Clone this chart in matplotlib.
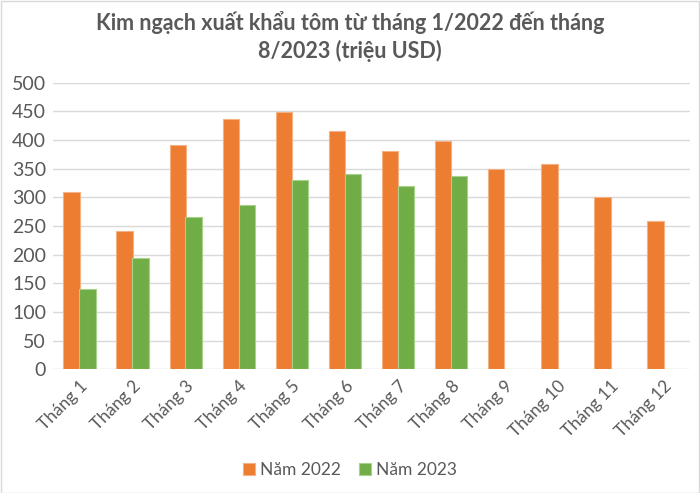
import matplotlib
matplotlib.use("Agg")
import matplotlib.pyplot as plt
import numpy as np
from matplotlib.patches import Rectangle

months = ["Tháng 1", "Tháng 2", "Tháng 3", "Tháng 4", "Tháng 5", "Tháng 6",
          "Tháng 7", "Tháng 8", "Tháng 9", "Tháng 10", "Tháng 11", "Tháng 12"]
values_2022 = [310, 242, 391, 436, 449, 416, 381, 398, 349, 359, 300, 259]
values_2023 = [140, 194, 265, 286, 331, 341, 320, 337]
series_names = ["Năm 2022", "Năm 2023"]
yticks = [0, 50, 100, 150, 200, 250, 300, 350, 400, 450, 500]

plt.rcParams['font.family'] = ['Lato', 'DejaVu Sans']
txt = '#595959'
fig = plt.figure(figsize=(7, 4.93), dpi=100)
ax = fig.add_axes([0.0757, 0.2509, 0.91, 0.5814])

x = np.arange(len(months))
w = 0.31
ax.bar(x - 0.15, values_2022, width=w, color='#ED7D31', edgecolor='#F4B183',
       linewidth=0.8, label=series_names[0], zorder=3)
x2 = np.arange(len(values_2023))
ax.bar(x2 + 0.15, values_2023, width=w, color='#70AD47', edgecolor='#A9D18E',
       linewidth=0.8, label=series_names[1], zorder=3)

ax.set_xlim(-0.5, len(months) - 0.5)
ax.set_ylim(0, 500)
ax.set_yticks(yticks)
ax.set_yticklabels([str(v) for v in yticks], fontsize=14, color=txt)
ax.set_xticks(x)
ax.set_xticklabels(months, rotation=45, ha='right', rotation_mode='anchor',
                   fontsize=12.5, color=txt)
ax.tick_params(length=0, axis='both')
ax.tick_params(axis='y', pad=5)
ax.tick_params(axis='x', pad=6)
ax.yaxis.grid(True, color='#D9D9D9', linewidth=1, zorder=0)
ax.set_axisbelow(True)
for s in ax.spines.values():
    s.set_visible(False)

fig.text(0.5, 0.955, "Kim ngạch xuất khẩu tôm từ tháng 1/2022 đến tháng",
         ha='center', va='center', fontsize=15.5, fontweight='bold', color=txt)
fig.text(0.5, 0.897, "8/2023 (triệu USD)",
         ha='center', va='center', fontsize=15.5, fontweight='bold', color=txt)

leg = fig.legend(loc='center', bbox_to_anchor=(0.5, 0.047), ncol=2, frameon=False,
                 fontsize=12.5, handlelength=0.7, handleheight=0.7,
                 handletextpad=0.3, columnspacing=1.0)
for t in leg.get_texts():
    t.set_color(txt)

fig.patches.append(Rectangle((0.001, 0.001), 0.997, 0.997, transform=fig.transFigure,
                             fill=False, edgecolor='#D9D9D9', linewidth=1))

fig.savefig("out.png", dpi=100)
